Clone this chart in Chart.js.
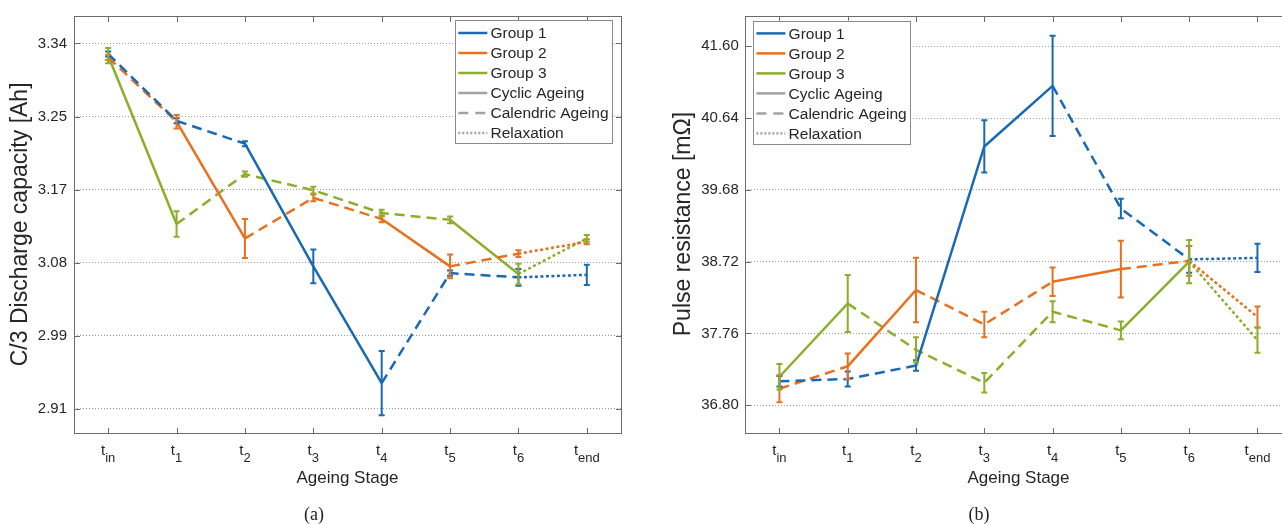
<!DOCTYPE html>
<html>
<head>
<meta charset="utf-8">
<title>Ageing stages</title>
<script src="https://cdn.jsdelivr.net/npm/chart.js@4/dist/chart.umd.min.js"></script>
<style>
  html, body { margin: 0; padding: 0; background: #fff; overflow: hidden; width: 1282px; height: 524px; }
  .panel { position: absolute; top: 0; height: 524px; }
  #panelA { left: 0; width: 640px; }
  #panelB { left: 640px; width: 662px; }
</style>
</head>
<body>
<div class="panel" id="panelA"><canvas id="capChart" width="640" height="524"></canvas></div>
<div class="panel" id="panelB"><canvas id="resChart" width="662" height="524"></canvas></div>
<script>
// ageing stages t_in ... t_end (subscripts)
const stages = ['in', '1', '2', '3', '4', '5', '6', 'end'];
const groupNames = ['Group 1', 'Group 2', 'Group 3'];
const groupColors = ['#1a69b4', '#e8711f', '#8cae2a'];

// kind of ageing between two stages, per group
const segG1 = ['dash', 'dash', 'solid', 'solid', 'dash', 'dash', 'dot'];
const segG2 = ['dash', 'solid', 'dash', 'dash', 'solid', 'dash', 'dot'];
const segG3 = ['solid', 'dash', 'dash', 'dash', 'dash', 'solid', 'dot'];

// C/3 discharge capacity [Ah], mean and std
const capG1 = [3.326, 3.247, 3.220, 3.075, 2.937, 3.067, 3.062, 3.065];
const capG1Err = [0.003, 0.003, 0.003, 0.020, 0.038, 0.003, 0.010, 0.012];
const capG2 = [3.322, 3.246, 3.108, 3.156, 3.131, 3.075, 3.090, 3.104];
const capG2Err = [0.003, 0.008, 0.023, 0.004, 0.004, 0.014, 0.004, 0.003];
const capG3 = [3.324, 3.125, 3.184, 3.165, 3.138, 3.130, 3.066, 3.108];
const capG3Err = [0.009, 0.015, 0.003, 0.004, 0.004, 0.004, 0.012, 0.004];
const capTickVals = [2.9065, 2.9929, 3.0793, 3.1657, 3.2521, 3.3385];
const capTickLabels = ['2.91', '2.99', '3.08', '3.17', '3.25', '3.34'];

// pulse resistance [mOhm], mean and std
const resG1 = [37.12, 37.15, 37.33, 40.26, 41.07, 39.43, 38.75, 38.77];
const resG1Err = [0.07, 0.10, 0.07, 0.35, 0.67, 0.13, 0.18, 0.19];
const resG2 = [37.02, 37.32, 38.34, 37.88, 38.45, 38.62, 38.73, 37.98];
const resG2Err = [0.18, 0.17, 0.43, 0.17, 0.19, 0.38, 0.20, 0.14];
const resG3 = [37.18, 38.16, 37.54, 37.10, 38.05, 37.80, 38.72, 37.67];
const resG3Err = [0.17, 0.38, 0.17, 0.13, 0.14, 0.12, 0.29, 0.17];
const resTickVals = [36.80, 37.76, 38.72, 39.68, 40.64, 41.60];
const resTickLabels = ['36.80', '37.76', '38.72', '39.68', '40.64', '41.60'];

const legendNames = ['Group 1', 'Group 2', 'Group 3', 'Cyclic Ageing', 'Calendric Ageing', 'Relaxation'];
const legendKinds = ['solid', 'solid', 'solid', 'solid', 'dash', 'dot'];

const FONT = '"Liberation Sans", Arial, sans-serif';
const dashes = { solid: [], dash: [10, 6], dot: [3, 2.5] };
const legendDashes = { solid: [], dash: [10, 7], dot: [2, 2] };

Chart.defaults.font.family = FONT;
Chart.defaults.color = '#262626';

// error bars with end caps
const errorBars = {
  id: 'errorBars',
  afterDatasetsDraw(chart) {
    const { ctx, scales: { x, y } } = chart;
    ctx.save();
    ctx.lineWidth = 2;
    chart.data.datasets.forEach(ds => {
      ctx.strokeStyle = ds.borderColor;
      ds.data.forEach((v, i) => {
        const px = x.getPixelForValue(i);
        const top = y.getPixelForValue(v + ds.errors[i]);
        const bot = y.getPixelForValue(v - ds.errors[i]);
        ctx.beginPath();
        ctx.moveTo(px, top); ctx.lineTo(px, bot);
        ctx.moveTo(px - 3, top); ctx.lineTo(px + 3, top);
        ctx.moveTo(px - 3, bot); ctx.lineTo(px + 3, bot);
        ctx.stroke();
      });
    });
    ctx.restore();
  }
};

// box with inward ticks, subscripted stage labels, legend and caption
const axesBox = {
  id: 'axesBox',
  afterDraw(chart, args, opts) {
    const { ctx, chartArea: a, scales: { x, y } } = chart;
    ctx.save();
    ctx.strokeStyle = '#6b6b6b';
    ctx.lineWidth = 1;
    const L = Math.round(a.left) + 0.5, R = Math.round(a.right) + 0.5;
    const T = Math.round(a.top) + 0.5, B = Math.round(a.bottom) + 0.5;
    ctx.strokeRect(L, T, R - L, B - T);
    ctx.beginPath();
    x.ticks.forEach((t, i) => {
      const px = Math.round(x.getPixelForTick(i)) + 0.5;
      ctx.moveTo(px, B); ctx.lineTo(px, B - 5.5);
      ctx.moveTo(px, T); ctx.lineTo(px, T + 5.5);
    });
    y.ticks.forEach((t, i) => {
      const py = Math.round(y.getPixelForTick(i)) + 0.5;
      ctx.moveTo(L, py); ctx.lineTo(L + 5.5, py);
      ctx.moveTo(R, py); ctx.lineTo(R - 5.5, py);
    });
    ctx.stroke();

    // t with subscript
    ctx.fillStyle = '#262626';
    ctx.textAlign = 'left';
    ctx.textBaseline = 'alphabetic';
    stages.forEach((s, i) => {
      const cx = x.getPixelForTick(i);
      ctx.font = '15px ' + FONT;
      const w1 = ctx.measureText('t').width;
      ctx.font = '13px ' + FONT;
      const w2 = ctx.measureText(s).width;
      const sx = cx - (w1 + w2) / 2;
      ctx.font = '15px ' + FONT;
      ctx.fillText('t', sx, a.bottom + 22.3);
      ctx.font = '13px ' + FONT;
      ctx.fillText(s, sx + w1, a.bottom + 29);
    });

    // legend
    const lg = opts.legend;
    ctx.fillStyle = '#fff';
    ctx.fillRect(lg.x, lg.y, lg.w, lg.h);
    ctx.strokeStyle = '#8a8a8a';
    ctx.lineWidth = 1;
    ctx.strokeRect(Math.round(lg.x) + 0.5, Math.round(lg.y) + 0.5, Math.round(lg.w), Math.round(lg.h));
    ctx.font = '15.5px ' + FONT;
    ctx.textBaseline = 'middle';
    legendNames.forEach((name, i) => {
      const ry = lg.y + 12.7 + i * 20;
      ctx.strokeStyle = i < 3 ? groupColors[i] : '#a3a3a3';
      ctx.lineWidth = 2.5;
      ctx.setLineDash(legendDashes[legendKinds[i]]);
      ctx.beginPath();
      ctx.moveTo(lg.x + 3, ry); ctx.lineTo(lg.x + 32, ry);
      ctx.stroke();
      ctx.setLineDash([]);
      ctx.fillStyle = '#262626';
      ctx.fillText(name, lg.x + 35.2, ry + 1);
    });

    // panel caption
    ctx.font = '18px "Liberation Serif", "DejaVu Serif", serif';
    ctx.textAlign = 'center';
    ctx.fillStyle = '#222';
    ctx.fillText(opts.caption, opts.captionX, 515);
    ctx.restore();
  }
};

function buildChart(id, cfg) {
  const segs = [segG1, segG2, segG3];
  return new Chart(document.getElementById(id), {
    type: 'line',
    data: {
      labels: stages,
      datasets: cfg.values.map((vals, k) => ({
        label: groupNames[k],
        data: vals,
        errors: cfg.errors[k],
        borderColor: groupColors[k],
        borderWidth: 2.5,
        pointRadius: 0,
        tension: 0,
        fill: false,
        segment: { borderDash: c => dashes[segs[k][c.p0DataIndex]] }
      }))
    },
    options: {
      responsive: false,
      animation: false,
      events: [],
      layout: { padding: { top: cfg.padTop, right: cfg.padRight, bottom: 0, left: 0 } },
      plugins: {
        legend: { display: false },
        tooltip: { enabled: false },
        axesBox: { legend: cfg.legend, caption: cfg.caption, captionX: cfg.captionX }
      },
      scales: {
        x: {
          type: 'category',
          offset: true,
          grid: { display: false },
          border: { display: false },
          ticks: { display: false },
          title: { display: true, text: 'Ageing Stage', font: { size: 17 }, color: '#262626', padding: { top: 0, bottom: 35.8 } },
          afterFit: s => { s.height = 91.3; }
        },
        y: {
          min: cfg.yMin,
          max: cfg.yMax,
          afterBuildTicks: s => { s.ticks = cfg.tickVals.map(v => ({ value: v })); },
          ticks: {
            callback: (v, i) => cfg.tickLabels[i],
            font: { size: 15 },
            color: '#262626',
            padding: cfg.tickPad
          },
          grid: { color: '#9a9a9a', lineWidth: 1, drawTicks: false },
          border: { display: false, dash: [1, 2] },
          title: { display: true, text: cfg.yTitle, font: { size: 23 }, color: '#262626', padding: { top: cfg.titlePad, bottom: 0 } },
          afterFit: s => { s.width = cfg.yWidth; }
        }
      }
    },
    plugins: [errorBars, axesBox]
  });
}

buildChart('capChart', {
  values: [capG1, capG2, capG3],
  errors: [capG1Err, capG2Err, capG3Err],
  yMin: 2.8784, yMax: 3.3709,
  tickVals: capTickVals, tickLabels: capTickLabels,
  yTitle: 'C/3 Discharge capacity [Ah]',
  padTop: 12.7, padRight: 19, yWidth: 74, tickPad: 7, titlePad: 7.2,
  legend: { x: 455.3, y: 20.3, w: 157.4, h: 122.7 },
  caption: '(a)', captionX: 314
});

buildChart('resChart', {
  values: [resG1, resG2, resG3],
  errors: [resG1Err, resG2Err, resG3Err],
  yMin: 36.432, yMax: 42.011,
  tickVals: resTickVals, tickLabels: resTickLabels,
  yTitle: 'Pulse resistance [mΩ]',
  padTop: 12.3, padRight: 10.4, yWidth: 105.3, tickPad: 6.5, titlePad: 30.2,
  legend: { x: 113.4, y: 20.7, w: 156.8, h: 123.3 },
  caption: '(b)', captionX: 339
});
</script>
</body>
</html>
